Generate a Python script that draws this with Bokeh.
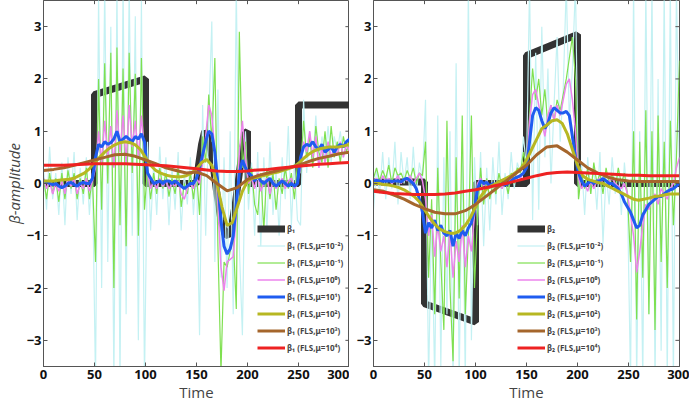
from bokeh.plotting import figure
from bokeh.layouts import row
from bokeh.models import FixedTicker, Range1d
from bokeh.embed import file_html
from bokeh.resources import INLINE

# ---------------- time grids ----------------
t3 = list(range(0, 301, 3))
t5 = list(range(0, 301, 5))
t10 = list(range(0, 301, 10))

x_ticks = [0, 50, 100, 150, 200, 250, 300]
y_ticks = [-3, -2, -1, 0, 1, 2, 3]

# ---------------- beta 1 (left panel) ----------------
b1_true_t = [0, 50, 50, 100, 100, 150, 150, 152, 155, 158, 162, 166, 170, 174, 178, 181, 184, 188, 192, 195, 198, 200, 200, 250, 250, 300]
b1_true_v = [0, 0, 1.7, 2.0, 0, 0, 0, 0.35, 0.75, 1.0, 0.85, 0.4, -0.2, -0.7, -0.97, -1.0, -0.85, -0.4, 0.2, 0.65, 0.97, 1.0, 0, 0, 1.5, 1.5]

b1_mu_m2 = [0.3, -0.5, 0.7, -0.3, 0.2, -0.6, 0.4, -0.8, 0.5, -0.2, 0.6, -0.7, 0.3, -0.4, 0.5, -0.6, 0.2,
            -3.8, 3.6, -2.0, 3.8, -1.5, 3.0, -3.8, 3.8, -3.8, 3.8, -2.5, 3.8, -1.0, 3.2, -3.0, 3.5, -3.8,
            0.8, -0.9, 0.4, -0.6, 0.7, -0.3, 0.5, -0.8, 0.3, -0.5, 0.6, -0.9, 0.2, -0.4, 0.5, -0.6, 0.3,
            -2.9, 1.5, -1.0, 1.2, 3.1, -1.5, 1.8, -1.8, 0.5, -2.0, 1.0, -2.5, 3.8, -1.2, -2.9, 1.0,
            -0.5, 0.4, -1.0, 0.6, -1.2, 0.5, -0.9, 0.8, -0.6, 0.3, -1.0, 0.5, -0.3, 1.1, -0.8, 0.4, -0.7,
            -0.8, 1.6, 0.2, 1.0, 0.4, 1.3, 0.3, 0.9, 0.5, 1.1, 0.4, 0.9, 0.6, 1.0, 0.5, 0.8, 0.6]

b1_mu_m1 = [0.1, -0.3, 0.2, -0.2, 0.1, -0.35, 0.2, -0.3, 0.25, -0.1, 0.2, -0.3, 0.1, -0.2, 0.3, -0.3, 0.1,
            -1.5, 2.0, -0.5, 2.3, 0.0, 2.5, -2.0, 2.6, -0.8, 2.2, -1.2, 2.5, 0.2, 2.1, -1.0, 2.4, -0.5,
            0.3, -0.3, 0.2, -0.2, 0.3, -0.1, 0.2, -0.25, 0.1, -0.2, 0.3, -0.45, 0.0, -0.2, 0.2, -0.3, 0.2,
            -0.6, 0.9, 0.4, 1.7, 0.8, 2.4, -1.2, -3.6, -1.5, -1.6, -1.3, -1.0, -2.4, 2.9, 0.3, 0.8,
            -0.2, 0.3, -0.4, -0.6, 0.2, -0.9, 0.3, -0.3, 0.2, -0.5, 0.1, -0.2, 0.3, -0.1, 0.2, -0.3, 0.4,
            0.2, 1.2, 0.5, 0.9, 0.3, 1.1, 0.6, 0.4, 1.0, 0.3, 1.1, 0.5, 0.8, 0.4, 0.9, 0.6, 0.8]

b1_mu_0 = [0.1, -0.1, 0.05, -0.2, 0.0, -0.15, 0.05, -0.2, 0.1, -0.05, 0.1, -0.2, 0.0, -0.1, 0.1, -0.15, 0.05,
           0.3, 1.0, 0.4, 1.2, 0.5, 1.1, 0.3, 1.4, 0.6, 1.3, 0.4, 1.5, 0.7, 1.2, 0.5, 1.3, 0.6,
           0.2, -0.1, 0.05, -0.1, 0.1, -0.05, 0.05, -0.1, 0.0, -0.05, 0.05, -0.2, -0.3, -0.1, 0.0, -0.1, 0.1,
           0.0, 0.4, 0.9, 1.5, 1.3, 0.6, -0.4, -1.6, -2.05, -1.5, -1.45, -1.4, -0.6, 0.6, 1.2, 0.5,
           0.0, 0.1, -0.1, 0.2, -0.15, 0.0, 0.1, -0.2, 0.05, -0.1, 0.0, 0.1, -0.1, 0.05, 0.1, -0.1, 0.0,
           0.3, 0.8, 0.6, 1.0, 0.5, 0.9, 0.3, 0.7, 0.4, 0.8, 0.5, 0.7, 0.55, 0.8, 0.5, 0.75, 0.6]

b1_mu_1 = [0.05, 0.03, 0.0, -0.02, 0.0, -0.05, -0.08, -0.05, 0.0, 0.02, -0.02, -0.05, 0.0, 0.02, 0.0, 0.0, 0.1,
           0.5, 0.75, 0.7, 0.8, 0.75, 0.78, 0.85, 1.0, 0.8, 0.85, 0.9, 0.85, 0.8, 0.9, 0.85, 0.95, 0.8,
           0.2, 0.1, 0.0, 0.02, 0.05, 0.0, 0.05, 0.05, 0.0, 0.05, 0.0, -0.05, -0.1, -0.05, 0.0, 0.0, 0.1,
           0.3, 0.55, 0.8, 1.0, 0.95, 0.6, 0.0, -0.7, -1.2, -1.35, -1.25, -1.0, -0.4, 0.2, 0.45, 0.3,
           0.2, 0.15, 0.05, 0.15, 0.05, 0.0, 0.05, 0.1, 0.0, -0.05, 0.0, 0.05, 0.0, -0.05, 0.0, -0.05, 0.0,
           0.5, 0.7, 0.75, 0.72, 0.8, 0.7, 0.65, 0.75, 0.6, 0.65, 0.7, 0.6, 0.7, 0.75, 0.7, 0.8, 0.85]

b1_mu_2 = [0.05, 0.05, 0.05, 0.06, 0.07, 0.08, 0.1, 0.15, 0.2, 0.28, 0.4, 0.5, 0.6, 0.68, 0.74, 0.78,
           0.8, 0.78, 0.74, 0.65, 0.5, 0.35, 0.25, 0.2, 0.16, 0.14, 0.13, 0.13, 0.15, 0.2, 0.28,
           0.4, 0.46, 0.35, 0.0, -0.45, -0.8, -0.75, -0.45, -0.15, 0.05, 0.1, 0.12, 0.15, 0.17, 0.2,
           0.22, 0.25, 0.28, 0.32, 0.38, 0.48, 0.56, 0.62, 0.66, 0.68, 0.7, 0.7, 0.7, 0.72, 0.75]

b1_mu_3 = [0.25, 0.27, 0.3, 0.35, 0.4, 0.45, 0.5, 0.55, 0.56, 0.52, 0.45, 0.38, 0.3, 0.25, 0.2, 0.22,
           0.15, 0.0, -0.14, -0.08, 0.08, 0.15, 0.2, 0.25, 0.3, 0.35, 0.42, 0.48, 0.52, 0.57, 0.6]

b1_mu_4 = [0.35, 0.35, 0.35, 0.36, 0.37, 0.38, 0.38, 0.38, 0.38, 0.37, 0.36, 0.35, 0.34, 0.32, 0.3, 0.28,
           0.26, 0.24, 0.23, 0.23, 0.24, 0.26, 0.27, 0.29, 0.31, 0.33, 0.35, 0.37, 0.38, 0.39, 0.4]

# ---------------- beta 2 (right panel) ----------------
b2_true_t = [0, 50, 50, 100, 100, 150, 150, 200, 200, 300]
b2_true_v = [0.03, 0.03, -2.3, -2.65, 0, 0, 2.45, 2.85, 0, 0]

b2_mu_m2 = [-0.5, 0.3, -0.2, 0.6, -0.3, 0.5, -0.1, 0.8, -0.4, 0.6, 0.0, 0.5, -0.3, 0.7, -0.2, 0.4, 0.1,
            1.6, -3.8, -0.5, -3.8, 1.3, -3.5, 0.5, -2.5, 1.0, -3.8, 2.3, -3.8, 0.8, -3.8, 3.8, -3.0, 0.5,
            -0.8, 0.6, -1.2, 0.3, -0.9, 0.5, -0.4, 0.8, -0.6, 0.2, -0.3, 0.6, -0.1, 0.4, 0.2, 0.9, 0.3,
            3.8, -0.7, 2.5, -0.5, 3.0, 0.5, 2.2, 0.0, 1.5, 2.8, 0.8, 1.8, 3.8, 1.2, 2.2, 3.8,
            -0.3, 0.4, -0.6, 0.5, -0.2, 0.3, -0.5, 0.6, -1.15, 0.2, -0.4, 0.5, -0.2, 0.3, -0.6, 0.4, -0.3,
            -3.8, 3.8, -3.8, 1.0, -3.8, 3.8, -2.5, 3.8, -3.8, 2.0, -3.2, 3.8, -3.8, 3.8, -3.8, 3.8, 0.0]

b2_mu_m1 = [0.1, 0.3, 0.05, 0.25, 0.1, 0.35, 0.0, 0.3, 0.15, 0.2, 0.05, 0.25, 0.1, 0.3, 0.0, 0.2, 0.15,
            0.8, -1.8, -0.3, -2.5, 0.3, -1.5, -2.8, 1.2, -2.0, -3.4, 0.5, -2.2, 1.3, -2.5, -1.0, 1.3, -2.0,
            -0.6, 0.3, -0.4, 0.1, -0.3, 0.0, -0.2, 0.2, -0.1, 0.1, -0.2, 0.2, 0.0, 0.3, 0.2, 0.6, 0.3,
            1.3, 2.2, 1.6, 2.0, 1.3, 1.8, 1.1, 1.5, 1.2, 1.6, 1.4, 1.7, 2.0, 2.4, 2.8, 2.0,
            -0.3, 0.2, -0.1, 0.3, -0.2, 0.4, 0.0, 0.2, -0.2, 0.3, 0.0, 0.2, -0.1, 0.3, 0.0, 0.2, -0.2,
            -1.5, 1.0, -2.6, 0.8, -1.8, 1.4, -2.5, 1.0, -2.8, 1.3, -1.5, 0.8, -2.0, 1.2, -0.8, 0.5, 2.35]

b2_mu_0 = [0.05, 0.1, 0.0, 0.15, 0.05, 0.1, 0.0, 0.05, 0.15, 0.0, 0.1, 0.05, 0.15, 0.0, 0.1, 0.2, 0.05,
           -0.3, -1.0, -0.6, -1.4, -0.8, -1.3, -1.0, -1.6, -0.9, -1.8, -1.1, -1.5, -0.8, -1.6, -1.0, -1.3, -0.6,
           0.0, 0.1, -0.05, 0.05, -0.1, 0.0, -0.05, 0.0, -0.1, 0.05, 0.0, 0.1, 0.05, 0.15, 0.1, 0.2, 0.3,
           1.2, 1.7, 1.8, 1.5, 1.2, 0.9, 1.3, 1.5, 1.2, 1.5, 1.3, 1.6, 1.9, 2.0, 1.6, 1.0,
           0.1, -0.1, 0.0, -0.15, 0.05, -0.1, 0.05, 0.1, 0.0, -0.05, 0.05, 0.1, 0.0, -0.05, -0.1, 0.0, -0.2,
           -0.6, -1.0, -1.7, -1.3, -0.8, -0.4, -0.5, -0.3, -0.2, -0.4, -0.1, -0.2, -0.3, -0.1, 0.0, 0.3, 0.5]

b2_mu_1 = [0.05, 0.06, 0.05, 0.04, 0.05, 0.05, 0.04, 0.05, 0.05, 0.03, 0.08, 0.1, 0.05, 0.0, -0.1, -0.3, -0.55,
           -0.95, -0.75, -0.85, -0.7, -0.9, -0.8, -0.95, -1.0, -0.9, -1.2, -0.95, -1.05, -0.9, -1.0, -0.85, -0.75, -0.5,
           -0.1, 0.05, 0.0, 0.02, -0.05, 0.0, -0.05, -0.02, 0.0, -0.03, 0.0, 0.05, 0.1, 0.12, 0.15, 0.2, 0.3,
           0.8, 1.3, 1.45, 1.4, 1.2, 1.05, 1.15, 1.35, 1.45, 1.4, 1.35, 1.35, 1.38, 1.3, 0.9, 0.5,
           0.2, 0.05, -0.05, 0.0, 0.05, 0.0, 0.05, 0.05, 0.1, 0.05, 0.0, 0.0, -0.05, -0.1, -0.2, -0.35, -0.45,
           -0.55, -0.7, -0.85, -0.8, -0.6, -0.5, -0.4, -0.35, -0.3, -0.25, -0.25, -0.2, -0.15, -0.12, -0.1, -0.05, 0.0]

b2_mu_2 = [0.0, 0.0, -0.02, -0.03, -0.05, -0.08, -0.12, -0.18, -0.25, -0.35, -0.5, -0.65, -0.78, -0.87, -0.92, -0.95,
           -0.95, -0.9, -0.8, -0.65, -0.45, -0.25, -0.12, -0.05, 0.0, 0.05, 0.1, 0.15, 0.22, 0.3, 0.45,
           0.65, 0.85, 1.05, 1.12, 1.2, 1.22, 1.15, 0.95, 0.65, 0.35, 0.15, 0.08, 0.05, 0.02, 0.0,
           -0.05, -0.1, -0.15, -0.2, -0.25, -0.3, -0.32, -0.3, -0.28, -0.25, -0.24, -0.22, -0.2, -0.2, -0.2]

b2_mu_3 = [-0.12, -0.15, -0.22, -0.3, -0.4, -0.48, -0.55, -0.58, -0.58, -0.52, -0.4, -0.25, -0.1, 0.05, 0.2, 0.35,
           0.55, 0.7, 0.72, 0.6, 0.45, 0.3, 0.2, 0.12, 0.07, 0.05, 0.04, 0.04, 0.04, 0.04, 0.04]

b2_mu_4 = [-0.15, -0.17, -0.19, -0.2, -0.21, -0.21, -0.21, -0.2, -0.18, -0.15, -0.12, -0.08, -0.04, 0.0, 0.05, 0.1,
           0.15, 0.19, 0.21, 0.22, 0.21, 0.2, 0.19, 0.18, 0.17, 0.16, 0.16, 0.15, 0.15, 0.15, 0.15]

mu_labels = ["10\u207b\u00b2", "10\u207b\u00b9", "10\u2070", "10\u00b9", "10\u00b2", "10\u00b3", "10\u2074"]
colors = ["#c4f1f3", "#7fe050", "#ec84ec", "#1f5cf0", "#b7b722", "#a5662c", "#ee2222"]
widths = [1.2, 1.2, 1.5, 3, 3, 3, 3]

FONT = "Open Sans"
AXIS_COLOR = "#555555"


def style_axes(p):
    for ax in p.xaxis + p.yaxis:
        ax.major_tick_in = 4
        ax.major_tick_out = 0
        ax.minor_tick_line_color = None
        ax.axis_line_color = AXIS_COLOR
        ax.major_tick_line_color = AXIS_COLOR
        ax.major_label_text_font = FONT
        ax.major_label_text_font_style = "bold"
        ax.major_label_text_font_size = "13px"
        ax.major_label_text_color = "#111111"
    p.xaxis.ticker = FixedTicker(ticks=x_ticks)
    p.yaxis.ticker = FixedTicker(ticks=y_ticks)
    p.xaxis.major_label_standoff = 3
    p.yaxis.major_label_standoff = 2
    p.xaxis.axis_label = "Time"
    p.xaxis.axis_label_text_font = FONT
    p.xaxis.axis_label_text_font_style = "normal"
    p.xaxis.axis_label_text_font_size = "15px"
    p.xaxis.axis_label_standoff = 0
    # inward tick marks on the top and right edges of the box
    p.segment(x0=x_ticks, y0=[3.5] * len(x_ticks), x1=x_ticks, y1=[3.43] * len(x_ticks),
              line_color=AXIS_COLOR, line_width=1)
    p.segment(x0=[300] * len(y_ticks), y0=y_ticks, x1=[296] * len(y_ticks), y1=y_ticks,
              line_color=AXIS_COLOR, line_width=1)


def make_panel(true_t, true_v, series, sub, border_left, border_right, with_ylabel, leg_x):
    p = figure(frame_width=306, frame_height=366, x_range=Range1d(0, 300), y_range=Range1d(-3.5, 3.5),
               output_backend="svg", toolbar_location=None,
               min_border_left=border_left, min_border_right=border_right,
               min_border_top=0, min_border_bottom=0)
    p.grid.visible = False
    p.outline_line_color = AXIS_COLOR
    p.background_fill_color = "white"
    p.border_fill_color = "white"
    p.line(true_t, true_v, line_color="#333333", line_width=7, legend_label="\u03b2" + sub)
    grids = [t3, t3, t3, t3, t5, t10, t10]
    for i, (vals, tt) in enumerate(zip(series, grids)):
        p.line(tt, vals, line_color=colors[i], line_width=widths[i],
               legend_label="\u03b2" + sub + " (FLS,\u03bc=" + mu_labels[i] + ")")
    style_axes(p)
    if with_ylabel:
        p.yaxis[0].axis_label = "\u03b2-amplitude"
        p.yaxis[0].axis_label_text_font = FONT
        p.yaxis[0].axis_label_text_font_style = "italic"
        p.yaxis[0].axis_label_text_font_size = "15px"
        p.yaxis[0].axis_label_standoff = 0
    lg = p.legend[0]
    lg.location = (leg_x, 12)
    lg.background_fill_alpha = 0
    lg.border_line_color = None
    lg.padding = 0
    lg.margin = 0
    lg.spacing = 4
    lg.glyph_width = 28
    lg.glyph_height = 13
    lg.label_height = 13
    lg.label_standoff = 2
    lg.label_text_font = "Noto Sans"
    lg.label_text_font_style = "bold"
    lg.label_text_font_size = "8px"
    return p


p1 = make_panel(b1_true_t, b1_true_v, [b1_mu_m2, b1_mu_m1, b1_mu_0, b1_mu_1, b1_mu_2, b1_mu_3, b1_mu_4],
                "\u2081", 30, 0, True, 214)
p2 = make_panel(b2_true_t, b2_true_v, [b2_mu_m2, b2_mu_m1, b2_mu_0, b2_mu_1, b2_mu_2, b2_mu_3, b2_mu_4],
                "\u2082", 24, 10, False, 144)

layout = row(p1, p2)
open("out.html", "w").write(file_html(layout, INLINE))
